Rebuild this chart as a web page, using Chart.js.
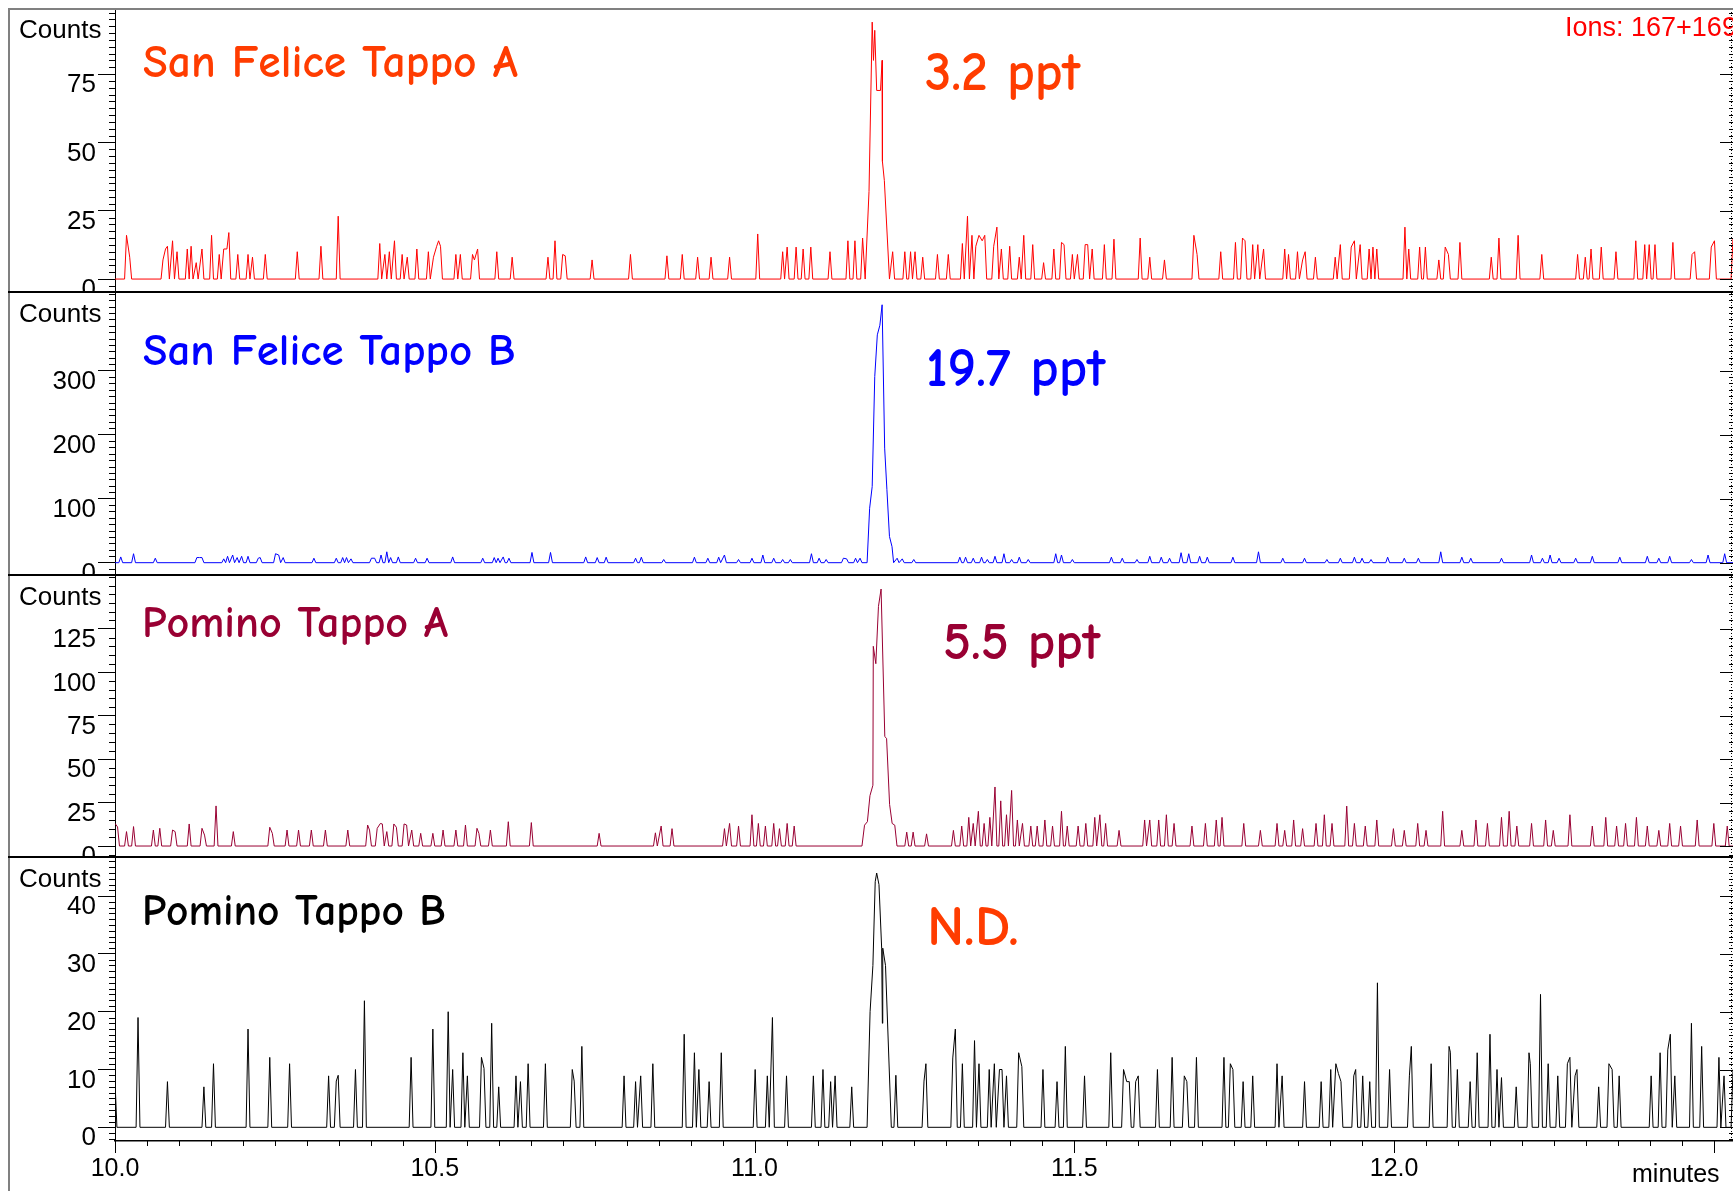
<!DOCTYPE html>
<html>
<head>
<meta charset="utf-8">
<title>SIM 167+169 - San Felice / Pomino</title>
<script src="https://cdn.jsdelivr.net/npm/chart.js@4.4.1/dist/chart.umd.min.js"></script>
<style>
  html, body { margin: 0; padding: 0; background: #fff; }
  #wrap { position: relative; width: 1733px; height: 1191px; overflow: hidden; background: #fff; }
  #wrap canvas { position: absolute; left: 0; }
</style>
</head>
<body>
<div id="wrap">
  <canvas id="panelA" width="1733" height="293" style="top:0px"></canvas>
  <canvas id="panelB" width="1733" height="283" style="top:293px"></canvas>
  <canvas id="panelC" width="1733" height="282" style="top:576px"></canvas>
  <canvas id="panelD" width="1733" height="333" style="top:858px"></canvas>
</div>
<script>
// time window (minutes) and its labelled ticks
var timeMin = 10.0;
var timeMax = 12.53;
var timeTicks = [10.0, 10.5, 11.0, 11.5, 12.0];

// y axis ranges and labelled ticks of each panel
var rangeA = [-5.1, 98.8];
var rangeB = [-20.8, 421.4];
var rangeC = [-6.9, 155.5];
var rangeD = [-2.37, 46.6];
var ticksA = [0, 25, 50, 75];
var ticksB = [0, 100, 200, 300];
var ticksC = [0, 25, 50, 75, 100, 125];
var ticksD = [0, 10, 20, 30, 40];

// San Felice Tappo A: noise spikes and the TCA peak (counts)
var sfaTimes = [
  10.018, 10.023, 10.075, 10.079, 10.082, 10.090, 10.097, 10.113, 10.119, 10.127,
  10.136, 10.151, 10.163, 10.170, 10.175, 10.178, 10.192, 10.208, 10.215, 10.235,
  10.285, 10.322, 10.349, 10.414, 10.422, 10.429, 10.437, 10.449, 10.457, 10.472,
  10.490, 10.498, 10.503, 10.506, 10.509, 10.533, 10.540, 10.559, 10.562, 10.567,
  10.597, 10.621, 10.677, 10.688, 10.700, 10.704, 10.746, 10.806, 10.863, 10.887,
  10.911, 10.932, 10.961, 11.005, 11.044, 11.051, 11.065, 11.076, 11.088, 11.118,
  11.146, 11.157, 11.169,
  11.216, 11.235, 11.244, 11.251, 11.263, 11.286, 11.303, 11.325, 11.333, 11.340,
  11.346, 11.351, 11.356, 11.360, 11.374, 11.379, 11.386, 11.399, 11.414, 11.421,
  11.435, 11.452, 11.468, 11.480, 11.484, 11.497, 11.505, 11.517, 11.521, 11.528,
  11.547, 11.562, 11.603, 11.618, 11.641, 11.687, 11.692, 11.729, 11.752, 11.763,
  11.767, 11.779, 11.787, 11.796, 11.829, 11.835, 11.849, 11.857, 11.861, 11.877,
  11.908, 11.916, 11.933, 11.938, 11.947, 11.961, 11.967, 11.973, 12.017, 12.023,
  12.040, 12.049, 12.070, 12.080, 12.085, 12.103, 12.152, 12.164, 12.194, 12.231,
  12.287, 12.299, 12.308, 12.324, 12.347, 12.378, 12.392, 12.399, 12.408, 12.436,
  12.466, 12.470, 12.496, 12.501, 12.530
];
var sfaCounts = [
  16, 8, 7, 11, 12, 14, 10, 11, 12, 6,
  11, 16, 9, 11, 11, 17, 9, 9, 8, 9,
  10, 12, 23, 13, 9, 10, 14, 9, 8, 11,
  10, 8, 12, 14, 12, 9, 9, 9, 7, 11,
  10, 8, 8, 14, 9, 8.5, 7, 9, 8.5, 9,
  8, 8, 8, 16.5, 10, 11.7, 11.7, 11, 11.7, 10,
  14, 14, 15,
  10, 10, 10, 10, 8, 9, 9, 13, 23, 16,
  12, 16, 14, 16, 12, 19, 11, 12, 8, 16,
  12.6, 6, 11, 13.4, 12.6, 9, 9, 12.6, 12.6, 11,
  12.6, 14.6, 15, 8, 7, 16, 9, 10, 13.4, 15,
  14, 12.6, 12.6, 11, 11, 9, 10, 7, 10, 8,
  8, 12.6, 11.7, 14, 12.6, 11, 11.7, 11, 19, 11,
  11.7, 11.7, 7, 11.7, 9, 13.4, 8, 15, 16, 9,
  9, 8, 11, 11.7, 10, 14, 12.6, 12.6, 12.6, 13.4,
  9, 10, 11.7, 14, 15
];
var sfaPeakTimes = [11.173, 11.179, 11.184, 11.186, 11.188, 11.191, 11.197, 11.1995, 11.200, 11.203, 11.211];
var sfaPeakCounts = [0, 32, 94, 80, 91, 69, 69, 80, 43, 36, 0];

// San Felice Tappo B
var sfbTimes = [
  10.009, 10.029, 10.063, 10.128, 10.132, 10.136, 10.170, 10.176, 10.184, 10.191,
  10.198, 10.208, 10.224, 10.227, 10.251, 10.256, 10.263, 10.311, 10.346, 10.356,
  10.362, 10.369, 10.401, 10.406, 10.416, 10.425, 10.431, 10.443, 10.470, 10.488,
  10.528, 10.575, 10.593, 10.599, 10.607, 10.616, 10.652, 10.681, 10.736, 10.754,
  10.768, 10.814, 10.823, 10.858, 10.906, 10.927, 10.944, 10.953, 10.975, 10.996,
  11.013, 11.030, 11.044, 11.056, 11.089, 11.101, 11.112, 11.139, 11.144, 11.158,
  11.165,
  11.223, 11.231, 11.249, 11.321, 11.330, 11.342, 11.355, 11.364, 11.376, 11.390,
  11.402, 11.414, 11.428, 11.471, 11.480, 11.497, 11.558, 11.575, 11.598, 11.618,
  11.636, 11.649, 11.667, 11.679, 11.696, 11.708, 11.748, 11.788, 11.826, 11.860,
  11.895, 11.916, 11.938, 11.950, 11.964, 11.990, 12.016, 12.038, 12.073, 12.106,
  12.120, 12.168, 12.215, 12.232, 12.244, 12.258, 12.284, 12.310, 12.353, 12.396,
  12.414, 12.431, 12.465, 12.491, 12.517
];
var sfbCounts = [
  9, 14, 7, 8, 8, 8, 6, 10, 12, 8,
  10, 10, 7, 8, 14, 12, 8, 7, 7, 8,
  8, 6, 7, 7, 12, 17, 8, 9, 7, 7,
  9, 7, 8, 7, 9, 7, 16, 16, 9, 8,
  8.6, 7, 8.6, 5, 8.6, 7, 8.6, 12, 5, 7,
  12, 7, 5, 5, 14, 7, 5, 7, 6, 7,
  7,
  7, 6, 5, 8.6, 8.6, 7, 8.6, 5, 10, 14,
  5, 8.6, 5, 14, 12, 5, 8.6, 7, 5, 10,
  8.6, 7, 15.6, 14, 10, 8.6, 8.6, 17, 7, 7,
  5, 7, 8.6, 7, 5, 8.6, 7, 7, 17, 8.6,
  7, 7, 12, 7, 12, 7, 7, 10, 8.6, 10,
  7, 10, 5, 12, 14
];
var sfbPeakTimes = [11.176, 11.180, 11.184, 11.188, 11.192, 11.196, 11.1995, 11.2035, 11.207, 11.211, 11.215, 11.2175];
var sfbPeakCounts = [0, 85, 119, 291, 356, 371, 403, 179, 114, 41, 25, 0];

// Pomino Tappo A
var ptaTimes = [
  10.000, 10.004, 10.018, 10.029, 10.060, 10.070, 10.090, 10.094, 10.116, 10.136,
  10.140, 10.158, 10.185, 10.242, 10.246, 10.269, 10.287, 10.307, 10.329, 10.364,
  10.395, 10.398, 10.410, 10.415, 10.418, 10.425, 10.436, 10.440, 10.452, 10.456,
  10.464, 10.478, 10.497, 10.513, 10.533, 10.548, 10.566, 10.569, 10.587, 10.615,
  10.651, 10.757, 10.845, 10.854, 10.871, 10.953, 10.961, 10.975, 10.996, 11.006,
  11.017, 11.030, 11.039, 11.051, 11.062,
  11.238, 11.248, 11.269, 11.311, 11.324, 11.335, 11.342, 11.350, 11.359, 11.368,
  11.376, 11.385, 11.394, 11.402, 11.411, 11.419, 11.432, 11.442, 11.454, 11.466,
  11.480, 11.489, 11.506, 11.518, 11.532, 11.540, 11.549, 11.570, 11.610, 11.618,
  11.632, 11.644, 11.656, 11.684, 11.705, 11.722, 11.731, 11.765, 11.791, 11.817,
  11.829, 11.843, 11.857, 11.878, 11.891, 11.903, 11.926, 11.938, 11.955, 11.973,
  11.999, 12.016, 12.037, 12.050, 12.076, 12.106, 12.128, 12.146, 12.168, 12.180,
  12.192, 12.215, 12.237, 12.249, 12.275, 12.310, 12.331, 12.348, 12.362, 12.379,
  12.396, 12.414, 12.431, 12.448, 12.474, 12.500, 12.521
];
var ptaCounts = [
  13, 11, 8.3, 11.2, 9.2, 10.2, 9.2, 8.3, 12.7, 10.2,
  6.3, 23.1, 8.3, 10.8, 7.3, 9.2, 9.2, 9.2, 9.2, 9.2,
  12.1, 9.2, 10.2, 13, 12.7, 8.3, 12.7, 10.8, 12.7, 12.1,
  9.2, 7.3, 7.3, 9.2, 9.2, 12.1, 10.2, 7.3, 9.2, 14,
  13.5, 7.3, 7.6, 11.5, 10, 10, 13, 11.5, 18, 13,
  11.5, 13, 10, 13, 11.5,
  8, 8, 7, 9, 11.5, 16.5, 13, 20, 13, 16.5,
  34, 26, 18, 32, 15, 13, 11.5, 11.5, 15, 11.5,
  20, 11.5, 11.5, 13, 16.5, 18, 13, 9, 15, 15,
  15, 18, 13, 11.5, 13, 15, 16.5, 13, 9, 13,
  9, 15, 10, 13, 18, 13, 23, 13, 11.5, 15,
  10, 9, 13, 9, 20, 9, 15, 13, 16.5, 20,
  11.5, 13, 15, 9, 18, 11.5, 16.5, 11.5, 13, 16.5,
  11.5, 9, 13, 11.5, 15, 13, 11.5
];
var ptaPeakTimes = [11.168, 11.172, 11.1765, 11.1805, 11.1851, 11.1857, 11.1897, 11.1938, 11.1979,
  11.2037, 11.2065, 11.2112, 11.2152, 11.2193, 11.2228];
var ptaPeakCounts = [0, 12, 14, 29, 35, 115, 105, 138, 148, 63, 62, 24, 13, 12, 0];

// Pomino Tappo B
var ptbTimes = [
  10.000, 10.036, 10.082, 10.139, 10.154, 10.208, 10.242, 10.273, 10.334, 10.346,
  10.349, 10.376, 10.390, 10.463, 10.497, 10.521, 10.528, 10.544, 10.551, 10.573,
  10.577, 10.589, 10.600, 10.627, 10.634, 10.646, 10.673, 10.715, 10.718, 10.730,
  10.796, 10.814, 10.822, 10.841, 10.890, 10.906, 10.913, 10.929, 10.948, 11.001,
  11.020, 11.028, 11.050, 11.092, 11.107, 11.119, 11.126, 11.152,
  11.221, 11.265, 11.268, 11.310, 11.314, 11.325, 11.344, 11.351, 11.367, 11.375,
  11.383, 11.387, 11.394, 11.413, 11.418, 11.451, 11.473, 11.486, 11.516, 11.557,
  11.577, 11.582, 11.586, 11.596, 11.600, 11.630, 11.653, 11.672, 11.676, 11.691,
  11.734, 11.744, 11.748, 11.764, 11.779, 11.817, 11.825, 11.860, 11.886, 11.901,
  11.909, 11.913, 11.917, 11.937, 11.940, 11.951, 11.962, 11.974, 11.993, 12.024,
  12.027, 12.058, 12.086, 12.088, 12.099, 12.119, 12.130, 12.150, 12.161, 12.168,
  12.191, 12.211, 12.213, 12.229, 12.241, 12.256, 12.271, 12.275, 12.283, 12.286,
  12.320, 12.336, 12.341, 12.352, 12.402, 12.416, 12.428, 12.432, 12.439, 12.465,
  12.481, 12.508, 12.516, 12.530
];
var ptbCounts = [
  8, 19, 7.9, 7, 11, 17, 12.1, 11, 8.9, 8,
  9, 10, 21.9, 12.1, 17, 20, 10, 12.9, 8.9, 12.1,
  10.2, 18, 7, 8.9, 7.9, 11, 11, 10, 8, 14,
  8.9, 7.9, 8.9, 11, 16.1, 12.9, 10, 7.9, 12.9, 10,
  8.9, 19, 8.9, 8.9, 10, 7.9, 8.9, 7,
  9, 8, 11, 12, 17, 11, 15, 11, 10, 11,
  10, 10, 8.9, 12.9, 10.5, 10, 7.9, 14, 8.9, 12.9,
  10, 7.9, 7.9, 7.9, 8.9, 10, 12.1, 8.9, 7.9, 12.1,
  12.1, 11, 10, 7.9, 8.9, 11, 8.9, 7.9, 7.9, 10,
  11, 9.3, 7.9, 8.9, 10, 8.9, 7.9, 25, 10, 8.9,
  14, 11, 14, 13, 10, 7.9, 12.9, 16.1, 10, 8.6,
  7, 12.9, 11, 23, 11, 8.9, 11, 12.1, 8.9, 10,
  7, 11, 10, 8.9, 8.9, 12.9, 13.4, 16.1, 8.9, 18,
  14, 12.1, 8.9, 10
];
var ptbPeakTimes = [11.176, 11.1807, 11.1851, 11.1887, 11.191, 11.1946, 11.1988, 11.1999, 11.2005, 11.2048, 11.2139];
var ptbPeakCounts = [0, 20, 28, 42.5, 44, 42, 31, 18, 31, 28, 0];

var fontAxis = '"Liberation Sans", Arial, sans-serif';
var fontHand = '"Comic Neue", "Noto Sans", sans-serif';
var halfScan = 0.003; // half width of a one-scan spike, minutes

// noise spikes sit on a zero baseline; peak points are used as they are
function buildTrace(times, counts, peakTimes, peakCounts) {
  var items = [];
  var i;
  for (i = 0; i < times.length; i++) items.push({ t: times[i], c: counts[i], fixed: false });
  for (i = 0; i < peakTimes.length; i++) items.push({ t: peakTimes[i], c: peakCounts[i], fixed: true });
  items.sort(function (a, b) { return a.t - b.t; });

  var pts = [];
  items.forEach(function (it) {
    var last = pts[pts.length - 1];
    if (!last) {
      if (it.t > timeMin) pts.push({ x: timeMin, y: 0 });
    } else if (!last.fixed && last.y > 0 && it.t - last.x > 0.0055) {
      pts.push({ x: last.x + halfScan, y: 0 });
    }
    last = pts[pts.length - 1];
    if (!it.fixed && it.c > 0 && last && last.y === 0 && it.t - last.x > 2 * halfScan) {
      pts.push({ x: it.t - halfScan, y: 0 });
    }
    pts.push({ x: it.t, y: it.c, fixed: it.fixed });
  });
  var end = pts[pts.length - 1];
  if (end.y > 0 && end.x + halfScan < timeMax) pts.push({ x: end.x + halfScan, y: 0 });
  if (pts[pts.length - 1].x < timeMax) pts.push({ x: timeMax, y: 0 });
  return pts;
}

function fittedText(ctx, text, x, y, width, color) {
  ctx.font = 'bold 100px ' + fontHand;
  var size = 100 * width / ctx.measureText(text).width;
  ctx.font = 'bold ' + size.toFixed(1) + 'px ' + fontHand;
  ctx.fillStyle = color;
  ctx.textAlign = 'left';
  ctx.textBaseline = 'alphabetic';
  ctx.fillText(text, x, y);
}

var panelDecor = {
  id: 'panelDecor',
  afterDraw: function (chart, args, o) {
    var ctx = chart.ctx, area = chart.chartArea;
    var ys = chart.scales.y, xs = chart.scales.x;
    var W = chart.width, H = chart.height;
    ctx.save();

    // minor ticks on the left axis, ticks on the right axis
    ctx.strokeStyle = '#000';
    ctx.lineWidth = 1;
    var n0 = Math.ceil(ys.min / o.minor), n1 = Math.floor(ys.max / o.minor);
    for (var n = n0; n <= n1; n++) {
      var v = Math.round(n * o.minor * 100) / 100;
      var py = Math.round(ys.getPixelForValue(v)) + 0.5;
      var major = o.ticks.indexOf(v) >= 0;
      ctx.beginPath();
      if (!major) {
        ctx.moveTo(area.left - 6, py);
        ctx.lineTo(area.left, py);
      }
      ctx.moveTo(area.right - (major ? 13 : 4), py);
      ctx.lineTo(area.right, py);
      ctx.stroke();
    }
    ctx.setLineDash([1, 2]);
    ctx.beginPath();
    ctx.moveTo(area.right - 1.5, area.top);
    ctx.lineTo(area.right - 1.5, area.bottom);
    ctx.stroke();
    ctx.setLineDash([]);

    // frame
    ctx.strokeStyle = '#808080';
    ctx.lineWidth = 2;
    ctx.beginPath();
    ctx.moveTo(9, o.first ? area.top : 0);
    ctx.lineTo(9, H);
    ctx.stroke();
    if (o.first) {
      ctx.beginPath();
      ctx.moveTo(8, area.top);
      ctx.lineTo(W, area.top);
      ctx.stroke();
    }
    if (!o.last) {
      ctx.strokeStyle = '#000';
      ctx.lineWidth = 2;
      ctx.beginPath();
      ctx.moveTo(8, H - 1);
      ctx.lineTo(W, H - 1);
      ctx.stroke();
    }

    // texts
    ctx.fillStyle = '#000';
    ctx.font = '26px ' + fontAxis;
    ctx.textAlign = 'left';
    ctx.textBaseline = 'middle';
    ctx.fillText('Counts', 19, area.top + 22);
    fittedText(ctx, o.title, o.titleX, area.top + o.titleY, o.titleW, o.color);
    fittedText(ctx, o.note, o.noteX, area.top + o.noteY, o.noteW, o.noteColor);

    if (o.first) {
      ctx.font = '27px ' + fontAxis;
      ctx.fillStyle = '#ff0000';
      ctx.textBaseline = 'alphabetic';
      ctx.fillText('Ions: 167+169', 1565, 36);
    }

    if (o.last) {
      // time axis ticks, every 0.05 min
      ctx.strokeStyle = '#000';
      ctx.lineWidth = 1;
      for (var k = 0; k <= 50; k++) {
        var px = Math.round(xs.getPixelForValue(timeMin + k * 0.05)) + 0.5;
        ctx.beginPath();
        ctx.moveTo(px, area.bottom);
        ctx.lineTo(px, area.bottom + (k % 10 === 0 ? 12 : 5));
        ctx.stroke();
      }
      ctx.fillStyle = '#000';
      ctx.font = '25px ' + fontAxis;
      ctx.textBaseline = 'alphabetic';
      ctx.fillText('minutes', 1632, H - 9);
    }
    ctx.restore();
  }
};

function makePanel(id, p) {
  var showTime = !!p.last;
  return new Chart(document.getElementById(id), {
    type: 'line',
    data: {
      datasets: [{
        data: buildTrace(p.times, p.counts, p.peakTimes, p.peakCounts),
        borderColor: p.line,
        borderWidth: 1,
        pointRadius: 0,
        tension: 0,
        fill: false
      }]
    },
    options: {
      responsive: false,
      animation: false,
      events: [],
      layout: { padding: { top: p.first ? 9 : 0, left: 0, right: 0, bottom: 0 } },
      scales: {
        x: {
          type: 'linear',
          display: showTime,
          min: timeMin,
          max: timeMax,
          afterBuildTicks: function (s) {
            s.ticks = timeTicks.map(function (v) { return { value: v }; });
          },
          afterFit: function (s) {
            s.height = showTime ? 50 : 0;
            s.paddingLeft = 0;
            s.paddingRight = 0;
          },
          grid: { display: false },
          border: { display: true, color: '#000', width: 1.5 },
          ticks: {
            color: '#000',
            font: { family: fontAxis, size: 25 },
            padding: 5,
            maxRotation: 0,
            autoSkip: false,
            callback: function (v) { return Number(v).toFixed(1); }
          }
        },
        y: {
          min: p.range[0],
          max: p.range[1],
          afterBuildTicks: function (s) {
            s.ticks = p.ticks.map(function (v) { return { value: v }; });
          },
          afterFit: function (s) {
            s.width = 115;
            s.paddingTop = 0;
            s.paddingBottom = 0;
          },
          grid: { drawOnChartArea: false, tickLength: 17, color: '#000', lineWidth: 1 },
          border: { color: '#000', width: 1 },
          ticks: {
            color: '#000',
            font: { family: fontAxis, size: 26 },
            padding: 2,
            labelOffset: 11,
            autoSkip: false
          }
        }
      },
      plugins: {
        legend: { display: false },
        tooltip: { enabled: false },
        panelDecor: {
          first: !!p.first, last: showTime, ticks: p.ticks, minor: p.minor,
          title: p.title, titleX: p.titleX, titleY: p.titleY, titleW: p.titleW, color: p.color,
          note: p.note, noteX: p.noteX, noteY: p.noteY, noteW: p.noteW, noteColor: p.noteColor
        }
      }
    },
    plugins: [panelDecor]
  });
}

makePanel('panelA', {
  first: true, times: sfaTimes, counts: sfaCounts, peakTimes: sfaPeakTimes, peakCounts: sfaPeakCounts,
  range: rangeA, ticks: ticksA, minor: 2.5,
  line: '#ff0000', color: '#ff3c00',
  title: 'San Felice Tappo A', titleX: 143, titleY: 68, titleW: 375,
  note: '3.2 ppt', noteX: 925, noteY: 81, noteW: 155, noteColor: '#ff3c00'
});
makePanel('panelB', {
  times: sfbTimes, counts: sfbCounts, peakTimes: sfbPeakTimes, peakCounts: sfbPeakCounts,
  range: rangeB, ticks: ticksB, minor: 10,
  line: '#0000ff', color: '#0000ff',
  title: 'San Felice Tappo B', titleX: 143, titleY: 72, titleW: 373,
  note: '19.7 ppt', noteX: 926, noteY: 93, noteW: 179, noteColor: '#0000ff'
});
makePanel('panelC', {
  times: ptaTimes, counts: ptaCounts, peakTimes: ptaPeakTimes, peakCounts: ptaPeakCounts,
  range: rangeC, ticks: ticksC, minor: 5,
  line: '#990033', color: '#990033',
  title: 'Pomino Tappo A', titleX: 142, titleY: 61, titleW: 306,
  note: '5.5 ppt', noteX: 943, noteY: 83, noteW: 157, noteColor: '#990033'
});
makePanel('panelD', {
  last: true, times: ptbTimes, counts: ptbCounts, peakTimes: ptbPeakTimes, peakCounts: ptbPeakCounts,
  range: rangeD, ticks: ticksD, minor: 1,
  line: '#000000', color: '#000000',
  title: 'Pomino Tappo B', titleX: 142, titleY: 67, titleW: 304,
  note: 'N.D.', noteX: 927, noteY: 87, noteW: 92, noteColor: '#ff3c00'
});
</script>
</body>
</html>
